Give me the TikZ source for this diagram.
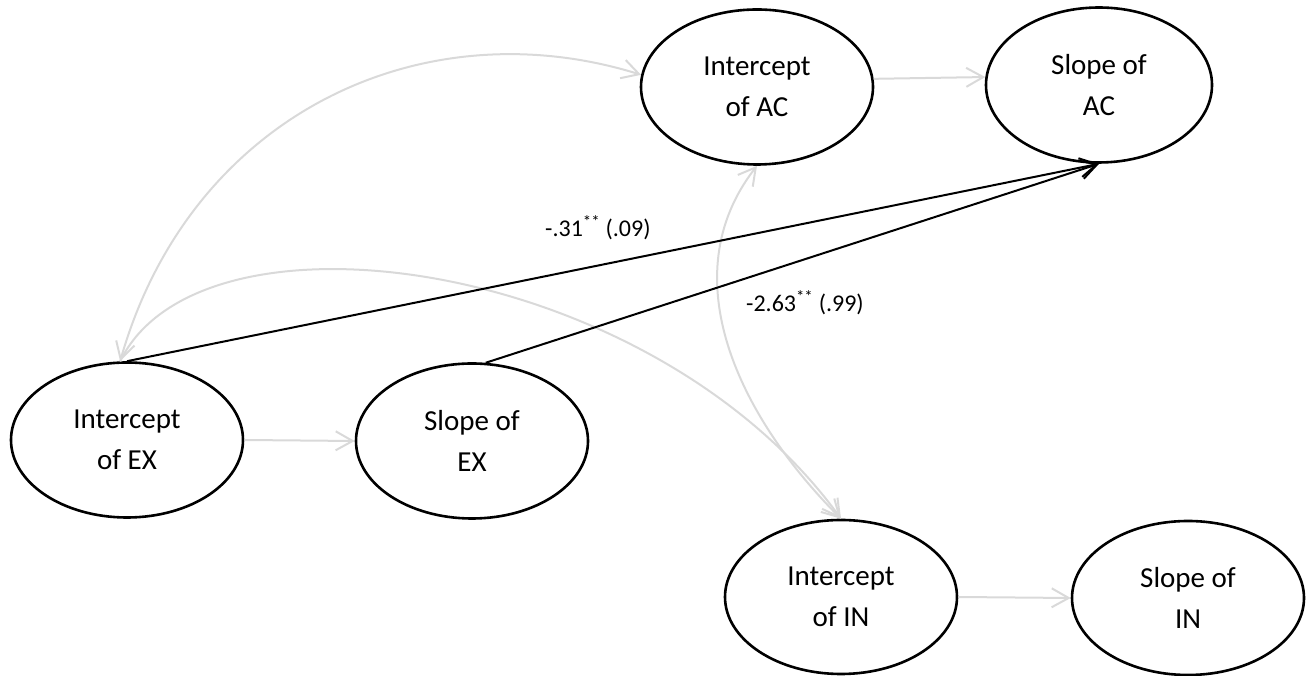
\documentclass[tikz,border=0pt]{standalone}
\usepackage{fontspec}
\setmainfont{Carlito}
\usetikzlibrary{shapes.geometric,arrows.meta}
\definecolor{lightgr}{HTML}{D9D9D9}
\begin{document}
\begin{tikzpicture}[x=1pt,y=1pt,
  lat/.style={ellipse,draw,line width=2.6pt,inner sep=0pt,align=center,
    minimum width=232pt,minimum height=155pt,font=\fontsize{29}{41}\selectfont},
  barb/.tip={Straight Barb[length=17pt,width=19pt]},
  grayarr/.style={draw=lightgr,line width=2pt,-barb},
  graydbl/.style={draw=lightgr,line width=2pt,barb-barb},
  blackarr/.style={draw=black,line width=2pt,-barb},
  coef/.style={anchor=base west,inner sep=0pt,font=\fontsize{24}{28}\selectfont}
]
\useasboundingbox (0,0) rectangle (1306,676);
\node[lat] (iac) at (757,589) {Intercept\\of AC};
\node[lat,minimum width=226pt] (sac) at (1099,591) {Slope of\\AC};
\node[lat] (iex) at (127,236) {Intercept\\of EX};
\node[lat] (sex) at (472,235) {Slope of\\EX};
\node[lat,minimum height=154pt] (iin) at (841,79) {Intercept\\of IN};
\node[lat,minimum height=154pt] (sin) at (1188,78) {Slope of\\IN};
% regressions within construct
\draw[grayarr] (iac.4) -- (sac.176);
\draw[grayarr] (iex.east) -- (sex.west);
\draw[grayarr] (iin.east) -- (sin.west);
% covariances
\draw[graydbl] (iex.95) .. controls (190,560) and (420,670) .. (iac.174);
\draw[graydbl] (iac.south) to[out=232,in=135] (iin.north);
\draw[grayarr] (iex.95) .. controls (200,480) and (650,420) .. (iin.north);
% predictive paths
\draw[blackarr] (iex.north) -- (sac.south);
\draw[blackarr] (sex.80) -- (sac.south);
\node[coef] (c1) at (545,439) {-.31\textsuperscript{**} (.09)};
\node[coef] (c2) at (746,364) {-2.63\textsuperscript{**} (.99)};
\end{tikzpicture}
\end{document}
